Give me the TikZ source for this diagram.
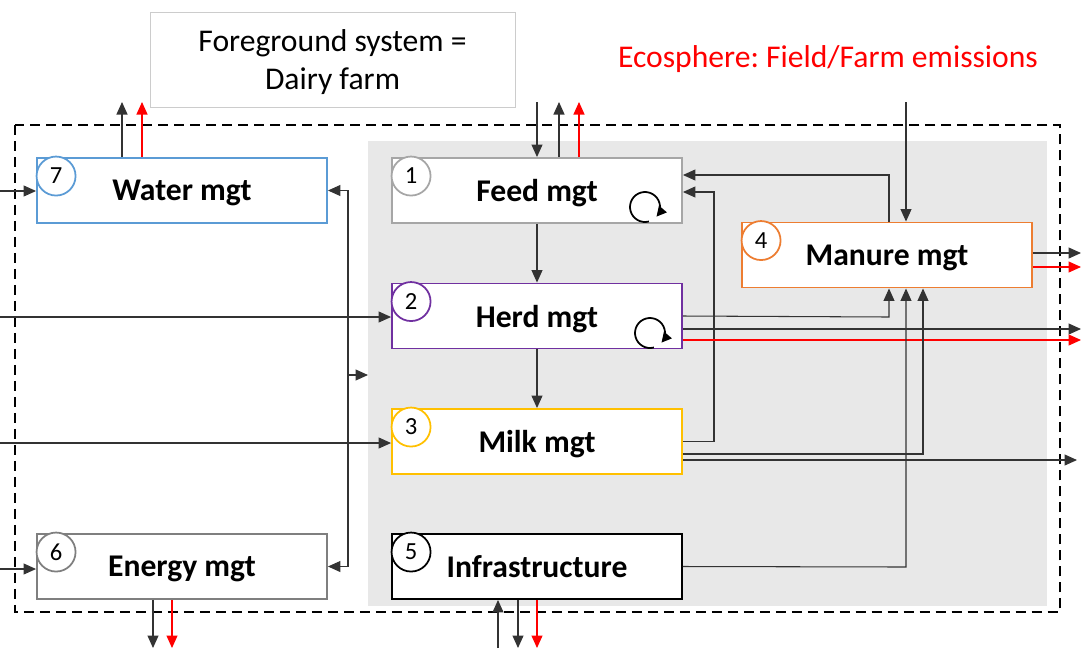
\documentclass[tikz,border=0pt]{standalone}
\usepackage{fontspec}
\setmainfont{Carlito}
\frenchspacing
\usetikzlibrary{arrows.meta, positioning}
\definecolor{waterblue}{HTML}{5B9BD5}
\definecolor{energygray}{HTML}{7F7F7F}
\definecolor{feedgray}{HTML}{A6A6A6}
\definecolor{herdpurple}{HTML}{7030A0}
\definecolor{milkgold}{HTML}{FFC000}
\definecolor{manureorange}{HTML}{ED7D31}
\definecolor{bggray}{HTML}{E8E8E8}
\tikzset{box/.style={draw, fill=white, line width=1.1pt, minimum width=5.8cm, minimum height=1.3cm,
                     text depth=0pt, font=\fontsize{18}{21}\selectfont\bfseries},
         num/.style={draw, circle, fill=white, line width=1pt, minimum size=0.78cm, inner sep=0pt,
                     font=\fontsize{14}{16}\selectfont},
         flow/.style={-{Triangle[length=2.5mm,width=2.2mm]}, line width=0.6pt, black!80},
         emis/.style={flow, red},
         loopy/.style={-{Triangle[length=2mm,width=2mm]}, line width=1pt},
        }

\begin{document}
\begin{tikzpicture}[x=0.02cm, y=-0.02cm]
        \useasboundingbox (0,0) rectangle (1081,650);
        \fill[bggray] (368,141) rectangle (1047,606);
        \draw[dashed, line width=1.1pt, dash pattern=on 2mm off 1.2mm] (15,125) rectangle (1060,612);

        \node[draw=black!20, minimum width=7.3cm, minimum height=1.9cm, align=center, text depth=0pt,
              font=\fontsize{18}{21.6}\selectfont](fg)at(332.5,59.5){Foreground system =\\Dairy farm};
        \node[text=red, font=\fontsize{18}{21.6}\selectfont](eco)at(828,59){Ecosphere: Field/Farm emissions};

        \node[box, draw=waterblue](water)at(182,190.5){Water mgt};
        \node[box, draw=energygray](energy)at(182,566.5){Energy mgt};
        \node[box, draw=feedgray](feed)at(537,190.5){Feed mgt};
        \node[box, draw=herdpurple](herd)at(537,316){Herd mgt};
        \node[box, draw=milkgold](milk)at(537,441.5){Milk mgt};
        \node[box, draw=black](infra)at(537,566.5){Infrastructure};
        \node[box, draw=manureorange](manure)at(887,255){Manure mgt};

        \node[num, draw=waterblue](n7)at([shift={(0.4cm,-0.38cm)}]water.north west){7};
        \node[num, draw=energygray](n6)at([shift={(0.4cm,-0.38cm)}]energy.north west){6};
        \node[num, draw=feedgray](n1)at([shift={(0.4cm,-0.38cm)}]feed.north west){1};
        \node[num, draw=herdpurple](n2)at([shift={(0.4cm,-0.38cm)}]herd.north west){2};
        \node[num, draw=milkgold](n3)at([shift={(0.4cm,-0.38cm)}]milk.north west){3};
        \node[num, draw=black](n5)at([shift={(0.4cm,-0.38cm)}]infra.north west){5};
        \node[num, draw=manureorange](n4)at([shift={(0.4cm,-0.38cm)}]manure.north west){4};

        % loose ends
        \coordinate (wup) at (122,102);
        \coordinate (wred) at (142,102);
        \coordinate (win) at (0,191);
        \coordinate (ein) at (0,569);
        \coordinate (edown) at (153,648);
        \coordinate (ered) at (172,648);
        \coordinate (bus) at (348,375);
        \coordinate (busend) at (368,375);
        \coordinate (fin) at (537,102);
        \coordinate (fup) at (559,102);
        \coordinate (fred) at (579,102);
        \coordinate (hin) at (0,317);
        \coordinate (min) at (0,443);
        \coordinate (mf) at (889,175);
        \coordinate (mkf) at (714,192);
        \coordinate (manin) at (906,102);
        \coordinate (mout) at (1081,253);
        \coordinate (mred) at (1081,267);
        \coordinate (hm) at (889,317);
        \coordinate (hout) at (1081,329);
        \coordinate (hred) at (1081,340);
        \coordinate (mkm) at (923,454);
        \coordinate (mkout) at (1077,460);
        \coordinate (im) at (906,567);
        \coordinate (iin) at (498,648);
        \coordinate (idown) at (518,648);
        \coordinate (ired) at (537,648);

        \draw[flow](water.north -| wup)--(wup);
        \draw[emis](water.north -| wred)--(wred);
        \draw[flow](win)--(win -| water.west);
        \draw[flow](ein)--(ein -| energy.west);
        \draw[flow](energy.south -| edown)--(edown);
        \draw[emis](energy.south -| ered)--(ered);
        \draw[flow](bus)--(bus |- water.east)--(water.east);
        \draw[flow](bus)--(bus |- energy.east)--(energy.east);
        \draw[flow](bus)--(busend);

        \draw[flow](fin)--(feed.north);
        \draw[flow](feed.north -| fup)--(fup);
        \draw[emis](feed.north -| fred)--(fred);
        \draw[flow](feed)--(herd);
        \draw[flow](herd)--(milk);
        \draw[flow](hin)--(hin -| herd.west);
        \draw[flow](min)--(min -| milk.west);

        \draw[flow](manure.north -| mf)--(mf)--(mf -| feed.east);
        \draw[flow](milk.east)--(milk.east -| mkf)--(mkf)--(mkf -| feed.east);
        \draw[flow](manin)--(manin |- manure.north);
        \draw[flow](mout -| manure.east)--(mout);
        \draw[emis](mred -| manure.east)--(mred);
        \draw[flow](herd.east)--(hm)--(hm |- manure.south);
        \draw[flow](hout -| herd.east)--(hout);
        \draw[emis](hred -| herd.east)--(hred);
        \draw[flow](mkm -| milk.east)--(mkm)--(mkm |- manure.south);
        \draw[flow](mkout -| milk.east)--(mkout);
        \draw[flow](infra.east)--(im)--(im |- manure.south);

        \draw[flow](iin)--(iin |- infra.south);
        \draw[flow](infra.south -| idown)--(idown);
        \draw[emis](infra.south -| ired)--(ired);

        % internal loops
        \coordinate (floop) at (645,207);
        \coordinate (hloop) at (650,333);
        \draw[loopy]([shift={(-75:0.3cm)}]floop) arc[start angle=-75, end angle=-400, radius=0.3cm];
        \draw[loopy]([shift={(-75:0.3cm)}]hloop) arc[start angle=-75, end angle=-400, radius=0.3cm];
    \end{tikzpicture}
\end{document}
